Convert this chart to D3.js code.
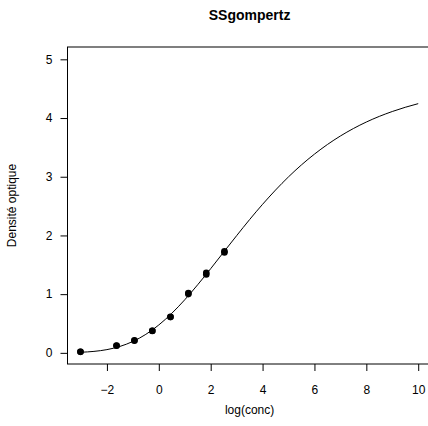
<!DOCTYPE html>
<html>
<head>
<meta charset="utf-8">
<script src="https://cdn.jsdelivr.net/npm/d3@7"></script>
<style>
  body { margin: 0; background: #fff; }
  svg { display: block; }
</style>
</head>
<body>
<svg id="svg"></svg>
<script>
const logConc = [-3.02, -3.02, -1.63, -1.63, -0.94, -0.94, -0.25, -0.25, 0.45, 0.45, 1.14, 1.14, 1.83, 1.83, 2.53, 2.53];
const density = [0.017, 0.018, 0.121, 0.124, 0.206, 0.215, 0.377, 0.374, 0.614, 0.609, 1.019, 1.001, 1.334, 1.364, 1.730, 1.710];

// fitted curve
const curveX = [-3, -2.5, -2, -1.5, -1, -0.5, 0, 0.5, 1, 1.5, 2, 2.5, 3, 3.5, 4, 4.5, 5, 5.5, 6, 6.5, 7, 7.5, 8, 8.5, 9, 9.5, 10];
const curveY = [0.010, 0.025, 0.055, 0.109, 0.194, 0.315, 0.475, 0.673, 0.904, 1.161, 1.434, 1.716, 1.996, 2.270, 2.530, 2.773, 2.998, 3.202, 3.385, 3.549, 3.694, 3.821, 3.932, 4.028, 4.111, 4.183, 4.245];

const xTicks = [-2, 0, 2, 4, 6, 8, 10];
const yTicks = [0, 1, 2, 3, 4, 5];

const width = 428;
const height = 426;
const font = "'Liberation Sans', Arial, Helvetica, sans-serif";

const svg = d3.select("#svg")
  .attr("width", width)
  .attr("height", height)
  .style("font-family", font);

// plot region (right edge runs past the window, as in the original)
const plot = { left: 67.5, right: 431.7, top: 47, bottom: 364 };

const xScale = d3.scaleLinear()
  .domain([-3.52, 10.52])
  .range([plot.left, plot.right]);

const yScale = d3.scaleLinear()
  .domain([-0.19, 5.21])
  .range([plot.bottom, plot.top]);

// BOX
svg.append("rect")
  .attr("x", plot.left)
  .attr("y", plot.top)
  .attr("width", plot.right - plot.left)
  .attr("height", plot.bottom - plot.top)
  .attr("fill", "none")
  .attr("stroke", "#000")
  .attr("stroke-width", 1);

// X AXIS
const xAxis = svg.append("g")
  .attr("transform", `translate(0, ${plot.bottom})`)
  .call(d3.axisBottom(xScale).tickValues(xTicks).tickFormat(d3.format("d"))
    .tickSize(7).tickPadding(14).tickSizeOuter(0));
xAxis.select(".domain").remove();
xAxis.selectAll("text").attr("font-size", 12).attr("font-family", font).attr("fill", "#000");

// Y AXIS
const yAxis = svg.append("g")
  .attr("transform", `translate(${plot.left}, 0)`)
  .call(d3.axisLeft(yScale).tickValues(yTicks).tickFormat(d3.format("d"))
    .tickSize(7).tickPadding(8).tickSizeOuter(0));
yAxis.select(".domain").remove();
yAxis.selectAll("text").attr("font-size", 12).attr("font-family", font).attr("fill", "#000");

// TITLE
svg.append("text")
  .attr("x", (plot.left + plot.right) / 2)
  .attr("y", 20)
  .attr("text-anchor", "middle")
  .attr("font-size", 14)
  .attr("font-weight", "bold")
  .text("SSgompertz");

// AXIS LABELS
svg.append("text")
  .attr("x", (plot.left + plot.right) / 2)
  .attr("y", 414)
  .attr("text-anchor", "middle")
  .attr("font-size", 12)
  .text("log(conc)");

svg.append("text")
  .attr("transform", `translate(16, ${(plot.top + plot.bottom) / 2}) rotate(-90)`)
  .attr("text-anchor", "middle")
  .attr("font-size", 12)
  .text("Densité optique");

// CURVE
const curveData = curveX.map((x, i) => ({ x: x, y: curveY[i] }));
svg.append("path")
  .datum(curveData)
  .attr("fill", "none")
  .attr("stroke", "#000")
  .attr("stroke-width", 1)
  .attr("d", d3.line()
    .x(d => xScale(d.x))
    .y(d => yScale(d.y))
    .curve(d3.curveMonotoneX));

// POINTS
svg.append("g")
  .selectAll("circle")
  .data(logConc.map((x, i) => ({ x: x, y: density[i] })))
  .enter()
  .append("circle")
  .attr("cx", d => xScale(d.x))
  .attr("cy", d => yScale(d.y))
  .attr("r", 3.3)
  .attr("fill", "#000");
</script>
</body>
</html>
